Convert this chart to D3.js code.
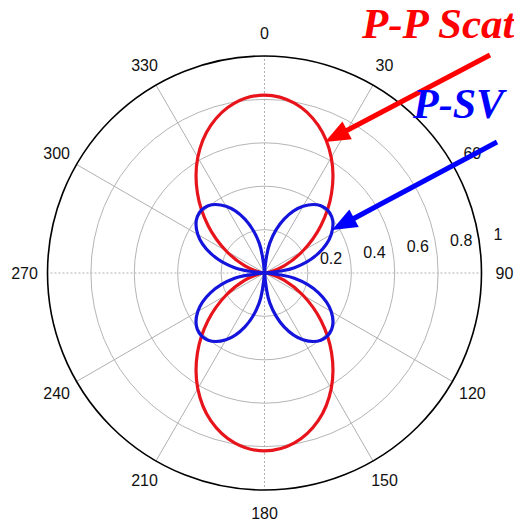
<!DOCTYPE html>
<html>
<head>
<meta charset="utf-8">
<script src="https://cdn.jsdelivr.net/npm/d3@7"></script>
<style>
  body { margin: 0; background: #fff; }
  svg { display: block; }
</style>
</head>
<body>
<div id="chart"></div>
<script>
// angles in degrees, clockwise from the top (0 = up)
var angles = d3.range(0, 360, 10);

// P-P scattering amplitude
var ppValues = [0.82, 0.795, 0.724, 0.615, 0.481, 0.339, 0.205, 0.096, 0.025,
                0, 0.025, 0.096, 0.205, 0.339, 0.481, 0.615, 0.724, 0.795,
                0.82, 0.795, 0.724, 0.615, 0.481, 0.339, 0.205, 0.096, 0.025,
                0, 0.025, 0.096, 0.205, 0.339, 0.481, 0.615, 0.724, 0.795];

// P-SV scattering amplitude
var psvValues = [0, 0.14, 0.264, 0.355, 0.404, 0.404, 0.355, 0.264, 0.14,
                 0, 0.14, 0.264, 0.355, 0.404, 0.404, 0.355, 0.264, 0.14,
                 0, 0.14, 0.264, 0.355, 0.404, 0.404, 0.355, 0.264, 0.14,
                 0, 0.14, 0.264, 0.355, 0.404, 0.404, 0.355, 0.264, 0.14];

var radialTicks = [0.2, 0.4, 0.6, 0.8, 1];
var radialLabels = ["0.2", "0.4", "0.6", "0.8", "1"];
var angleTicks = d3.range(0, 360, 30);

var width = 514, height = 524;
var cx = 264.5, cy = 273, R = 217;

var svg = d3.select("#chart").append("svg")
    .attr("width", width)
    .attr("height", height);

var rScale = d3.scaleLinear().domain([0, 1]).range([0, R]);
var deg2rad = function(d) { return d * Math.PI / 180; };

var g = svg.append("g").attr("transform", "translate(" + cx + "," + cy + ")");

// rings
g.selectAll("circle.ring")
    .data(radialTicks.slice(0, -1))
    .enter().append("circle")
    .attr("class", "ring")
    .attr("r", function(d) { return rScale(d); })
    .attr("fill", "none")
    .attr("stroke", "#b5b5b5")
    .attr("stroke-width", 1);

// spokes
g.selectAll("line.spoke")
    .data(angleTicks)
    .enter().append("line")
    .attr("class", "spoke")
    .attr("x1", 0).attr("y1", 0)
    .attr("x2", function(d) { return rScale(1) * Math.sin(deg2rad(d)); })
    .attr("y2", function(d) { return -rScale(1) * Math.cos(deg2rad(d)); })
    .attr("stroke", "#b0b0b0")
    .attr("stroke-width", 1)
    .attr("stroke-dasharray", function(d) { return d % 90 === 0 ? "2,2" : null; });

// outer circle
g.append("circle")
    .attr("r", rScale(1))
    .attr("fill", "none")
    .attr("stroke", "#000")
    .attr("stroke-width", 1.6);

// angle labels
g.selectAll("text.angle")
    .data(angleTicks)
    .enter().append("text")
    .attr("class", "angle")
    .attr("x", function(d) { return 240 * Math.sin(deg2rad(d)); })
    .attr("y", function(d) { return -240 * Math.cos(deg2rad(d)); })
    .attr("text-anchor", "middle")
    .attr("dominant-baseline", "central")
    .style("font-family", "'Liberation Sans', Arial, sans-serif")
    .style("font-size", "16px")
    .attr("fill", "#111")
    .text(function(d) { return d; });

// radial labels
g.selectAll("text.rlabel")
    .data(radialTicks)
    .enter().append("text")
    .attr("class", "rlabel")
    .attr("x", function(d) { return rScale(d) + 12; })
    .attr("y", function(d) { return -9 - 0.138 * rScale(d); })
    .attr("dominant-baseline", "central")
    .style("font-family", "'Liberation Sans', Arial, sans-serif")
    .style("font-size", "16px")
    .attr("fill", "#111")
    .text(function(d, i) { return radialLabels[i]; });

// split a closed series into lobes running from one zero to the next
function lobes(values) {
    var pts = angles.map(function(a, i) { return [deg2rad(a), values[i]]; });
    var start = values.indexOf(0);
    var n = pts.length, out = [], cur = [];
    for (var k = 0; k <= n; k++) {
        var p = pts[(start + k) % n];
        var q = [p[0] + (start + k >= n ? 2 * Math.PI : 0), p[1]];
        cur.push(q);
        if (p[1] === 0 && cur.length > 1) { out.push(cur); cur = [q]; }
    }
    return out;
}

var radial = d3.lineRadial()
    .angle(function(d) { return d[0]; })
    .radius(function(d) { return rScale(d[1]); })
    .curve(d3.curveCatmullRom.alpha(0.5));

var series = [
    { values: ppValues, color: "#e8141c" },
    { values: psvValues, color: "#1414dc" }
];

series.forEach(function(s) {
    g.append("path")
        .attr("d", lobes(s.values).map(radial).join(""))
        .attr("fill", "none")
        .attr("stroke", s.color)
        .attr("stroke-width", 3.2)
        .attr("stroke-linejoin", "round");
});

// annotation arrows
function arrow(x1, y1, x2, y2, color) {
    var ang = Math.atan2(y2 - y1, x2 - x1);
    var hl = 25, hw = 10;
    var bx = x2 - hl * Math.cos(ang), by = y2 - hl * Math.sin(ang);
    svg.append("line")
        .attr("x1", x1).attr("y1", y1)
        .attr("x2", bx + 2 * Math.cos(ang)).attr("y2", by + 2 * Math.sin(ang))
        .attr("stroke", color)
        .attr("stroke-width", 5);
    var px = -Math.sin(ang) * hw, py = Math.cos(ang) * hw;
    svg.append("path")
        .attr("d", "M" + x2 + "," + y2 + "L" + (bx + px) + "," + (by + py) +
                   "L" + (bx - px) + "," + (by - py) + "Z")
        .attr("fill", color);
}
arrow(490, 55, 325, 142, "#ff0000");
arrow(497, 142, 332, 230, "#0000ff");

svg.append("text")
    .attr("x", 362).attr("y", 38)
    .style("font-family", "'Liberation Serif', 'Times New Roman', serif")
    .style("font-weight", "bold")
    .style("font-style", "italic")
    .style("font-size", "43px")
    .attr("fill", "#ff0000")
    .text("P-P Scattering");

svg.append("text")
    .attr("x", 413).attr("y", 118)
    .style("font-family", "'Liberation Serif', 'Times New Roman', serif")
    .style("font-weight", "bold")
    .style("font-style", "italic")
    .style("font-size", "42px")
    .attr("fill", "#0000ff")
    .text("P-SV");
</script>
</body>
</html>
